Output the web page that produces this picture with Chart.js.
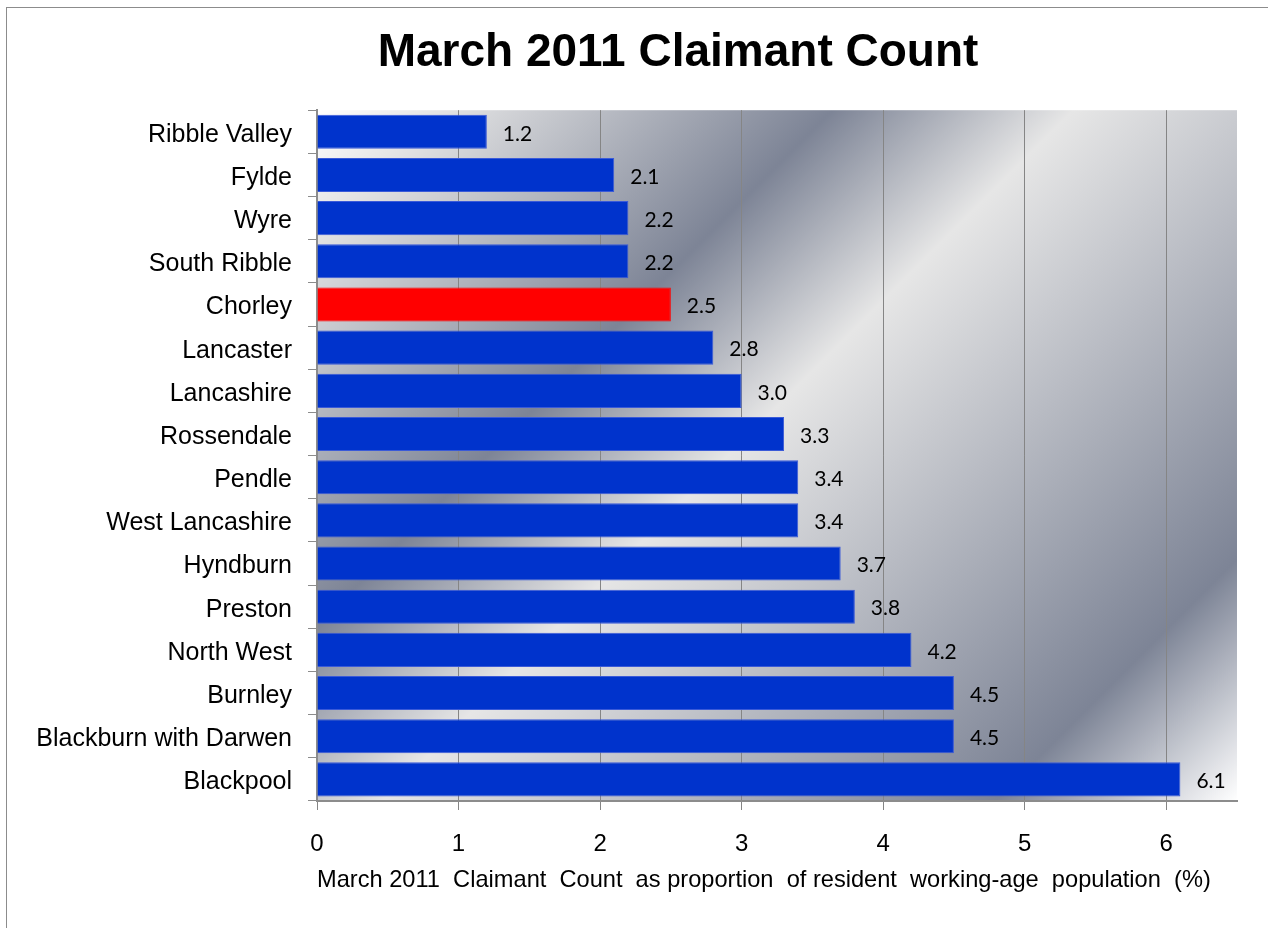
<!DOCTYPE html>
<html>
<head>
<meta charset="utf-8">
<script src="https://cdn.jsdelivr.net/npm/chart.js@4/dist/chart.umd.min.js"></script>
<style>
  html, body { margin: 0; padding: 0; background: #fff; overflow: hidden; }
  #box {
    position: absolute; left: 6px; top: 7px;
    width: 1342px; height: 960px;
    border: 1px solid #8c8c8c;
  }
</style>
</head>
<body>
<div id="box"><canvas id="claimChart"></canvas></div>
<script>
const areas = [
  "Ribble Valley", "Fylde", "Wyre", "South Ribble", "Chorley", "Lancaster",
  "Lancashire", "Rossendale", "Pendle", "West Lancashire", "Hyndburn",
  "Preston", "North West", "Burnley", "Blackburn with Darwen", "Blackpool"
];
const claimRate = [1.2, 2.1, 2.2, 2.2, 2.5, 2.8, 3.0, 3.3, 3.4, 3.4, 3.7, 3.8, 4.2, 4.5, 4.5, 6.1];
const highlight = "Chorley";
const xTicks = [0, 1, 2, 3, 4, 5, 6];

const barColors = areas.map(a => a === highlight ? "#ff0000" : "#0033cc");
const barBorders = areas.map(a => a === highlight ? "#ff0000" : "#3a5ad8");

// silver metallic fill behind the plot
const silverBg = {
  id: "silverBg",
  beforeDraw(chart) {
    const { ctx, chartArea: a } = chart;
    const d = (a.width + a.height) / 2;
    const g = ctx.createLinearGradient(a.left, a.top, a.left + d, a.top + d);
    g.addColorStop(0, "#ffffff");
    g.addColorStop(0.07, "#e6e6e6");
    g.addColorStop(0.32, "#7d8496");
    g.addColorStop(0.47, "#e6e6e6");
    g.addColorStop(0.85, "#7d8496");
    g.addColorStop(1, "#ffffff");
    ctx.save();
    ctx.fillStyle = g;
    ctx.fillRect(a.left, a.top, a.width, a.height);
    ctx.restore();
  }
};

// value labels right of each bar
const valueLabels = {
  id: "valueLabels",
  afterDatasetsDraw(chart) {
    const { ctx } = chart;
    const meta = chart.getDatasetMeta(0);
    ctx.save();
    ctx.font = "21px Lato, 'Open Sans', sans-serif";
    ctx.fillStyle = "#000";
    ctx.textAlign = "left";
    ctx.textBaseline = "middle";
    meta.data.forEach((bar, i) => {
      ctx.fillText(claimRate[i].toFixed(1), bar.x + 16, bar.y + 2);
    });
    ctx.restore();
  }
};

const arial = "'Liberation Sans', Arial, sans-serif";

new Chart(document.getElementById("claimChart"), {
  type: "bar",
  data: {
    labels: areas,
    datasets: [{
      data: claimRate,
      backgroundColor: barColors,
      borderColor: barBorders,
      borderWidth: 1,
      barPercentage: 0.79,
      categoryPercentage: 1
    }]
  },
  options: {
    indexAxis: "y",
    responsive: true,
    maintainAspectRatio: false,
    animation: false,
    layout: { padding: { left: 0, right: 0, top: 0, bottom: 57 } },
    plugins: {
      legend: { display: false },
      tooltip: { enabled: false },
      title: {
        display: true,
        text: "March 2011 Claimant Count",
        color: "#000",
        font: { family: arial, size: 46, weight: "bold" },
        padding: { top: 18, bottom: 29 }
      }
    },
    scales: {
      x: {
        min: 0,
        max: 6.5,
        afterBuildTicks: s => { s.ticks = xTicks.map(v => ({ value: v })); },
        afterFit: s => { s.height = 110; },
        grid: { color: "#858585", lineWidth: 1, tickLength: 9, drawTicks: true },
        border: { color: "#8c8c8c", width: 2 },
        ticks: {
          color: "#000",
          padding: 20,
          font: { family: arial, size: 24 }
        },
        title: {
          display: true,
          text: "March 2011  Claimant  Count  as proportion  of resident  working-age  population  (%)    ",
          color: "#000",
          font: { family: arial, size: 24 },
          padding: { top: 4, bottom: 16 }
        }
      },
      y: {
        afterFit: s => { s.width = 310; },
        grid: { offset: true, drawOnChartArea: false, color: "#8c8c8c", tickLength: 9 },
        border: { color: "#8c8c8c", width: 2 },
        ticks: {
          color: "#000",
          padding: 16,
          labelOffset: 3,
          font: { family: arial, size: 25 }
        }
      },
      // empty strip on the right so the title centres over the whole frame
      rightGap: {
        type: "linear",
        axis: "y",
        position: "right",
        afterFit: s => { s.width = 112; },
        grid: { display: false },
        border: { display: false },
        ticks: { display: false }
      }
    }
  },
  plugins: [silverBg, valueLabels]
});
</script>
</body>
</html>
